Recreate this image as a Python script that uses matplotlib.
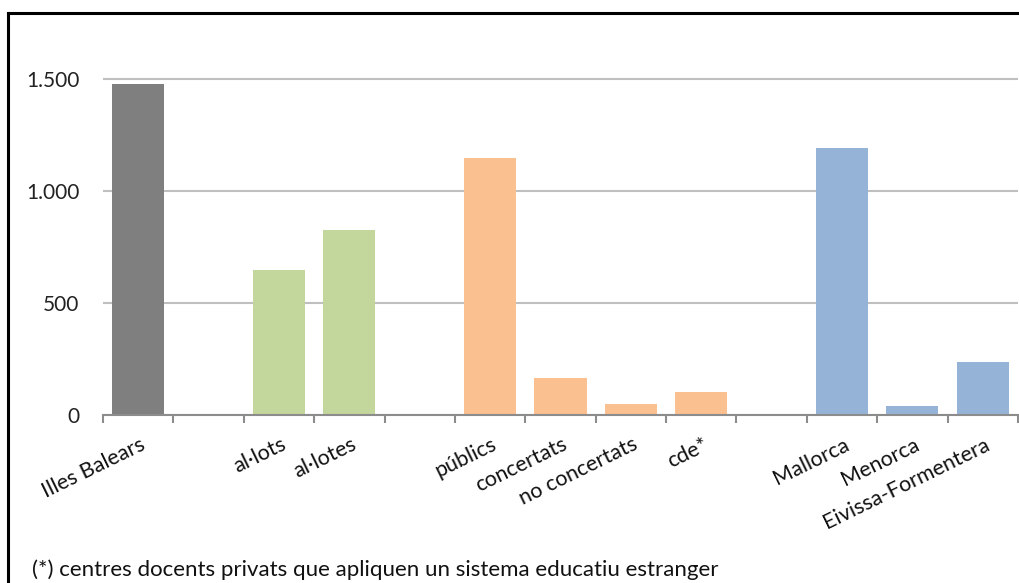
import matplotlib
matplotlib.use("Agg")
import matplotlib.pyplot as plt
from matplotlib.lines import Line2D

categories = ["Illes Balears", "", "al·lots", "al·lotes", "", "públics", "concertats",
              "no concertats", "cde*", "", "Mallorca", "Menorca", "Eivissa-Formentera"]
values = [1478, 0, 647, 826, 0, 1147, 165, 49, 103, 0, 1192, 40, 237]
colors = ["#7F7F7F", "none", "#C3D69B", "#C3D69B", "none", "#FAC090", "#FAC090",
          "#FAC090", "#FAC090", "none", "#95B3D7", "#95B3D7", "#95B3D7"]
yticks = [0, 500, 1000, 1500]
ytick_labels = ["0", "500", "1.000", "1.500"]
footnote = "(*) centres docents privats que apliquen un sistema educatiu estranger"

plt.rcParams['font.family'] = ['Lato', 'DejaVu Sans']

W, H = 1019, 583
fig = plt.figure(figsize=(W/100, H/100), dpi=100)
ax = fig.add_axes([103/W, 1-415/H, (1018-103)/W, (415-23)/H])

x = list(range(len(categories)))
for xi, v, c in zip(x, values, colors):
    if c != "none" and v > 0:
        ax.bar(xi, v, width=0.74, color=c, zorder=3)

ax.set_xlim(-0.5, len(categories)-0.5)
ax.set_ylim(0, 1750)
ax.set_yticks(yticks)
ax.set_yticklabels(ytick_labels, fontsize=15, color="#222222")
ax.yaxis.grid(True, color="#BFBFBF", linewidth=1.5, zorder=0)
ax.tick_params(axis='y', length=0, pad=17)

ax.set_xticks([i - 0.5 for i in range(len(categories)+1)])
ax.set_xticklabels([])
ax.tick_params(axis='x', length=6, width=1.5, color="#8C8C8C", direction='out')

for s in ["top", "right", "left"]:
    ax.spines[s].set_visible(False)
ax.spines["bottom"].set_color("#8C8C8C")
ax.spines["bottom"].set_linewidth(1.5)
ax.spines["bottom"].set_zorder(4)

for xi, lab in zip(x, categories):
    if lab:
        ax.annotate(lab, xy=(xi, 0), xycoords=('data', 'axes fraction'),
                    xytext=(1, -14), textcoords='offset points',
                    ha='right', va='top', rotation=26, rotation_mode='anchor',
                    fontsize=15.5, color="#111111")

fig.text(32/W, 1-570/H, footnote, fontsize=16, va='center', ha='left', color="#111111")

# chart frame
fig.add_artist(Line2D([8/W, 8/W], [1-13/H, 0], transform=fig.transFigure, color='black', linewidth=2.2))
fig.add_artist(Line2D([8/W, 1], [1-13/H, 1-13/H], transform=fig.transFigure, color='black', linewidth=2.2))

fig.savefig("out.png", dpi=100)
